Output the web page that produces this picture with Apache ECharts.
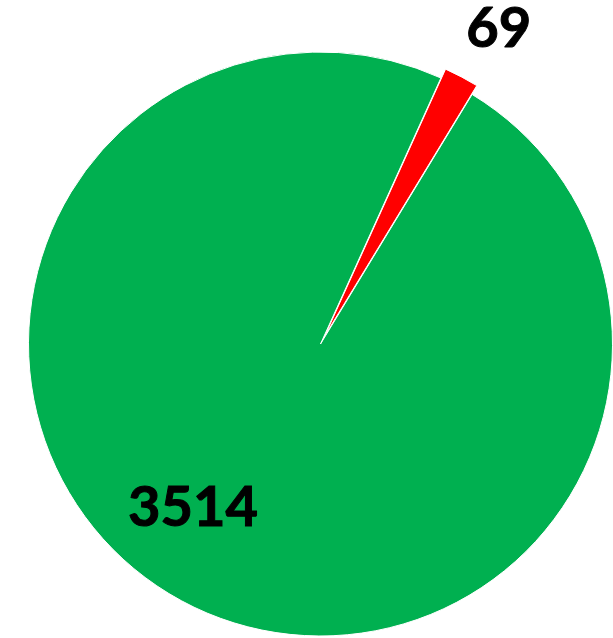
<!DOCTYPE html>
<html>
<head>
<meta charset="utf-8">
<script src="https://cdn.jsdelivr.net/npm/echarts@6/dist/echarts.min.js"></script>
<style>html,body{margin:0;padding:0;background:#fff}#c{width:613px;height:638px}</style>
</head>
<body>
<div id="c"></div>
<script>
var categories = ['Red', 'Green'];
var values = [69, 3514];
var colors = ['#FF0000', '#00B050'];

var chart = echarts.init(document.getElementById('c'));
var data = categories.map(function (n, i) {
  return {
    name: n,
    value: values[i],
    selected: i === 0,
    itemStyle: { color: colors[i] }
  };
});
var labelShift = [[104, -174], [-58, 32]];
chart.setOption({
  animation: false,
  series: [{
    type: 'pie',
    center: [320.5, 344],
    radius: [0, 292],
    startAngle: 65.65,
    clockwise: true,
    selectedMode: 'single',
    selectedOffset: 10,
    avoidLabelOverlap: false,
    itemStyle: { borderColor: '#ffffff', borderWidth: 1 },
    label: {
      show: true,
      position: 'inside',
      formatter: '{c}',
      color: '#000',
      fontFamily: 'Lato',
      fontWeight: 'bold',
      fontSize: 56,
      textBorderColor: '#000',
      textBorderWidth: 1
    },
    labelLayout: function (p) {
      var s = labelShift[p.dataIndex];
      return { dx: s[0], dy: s[1] };
    },
    labelLine: { show: false },
    emphasis: { disabled: true },
    data: data
  }]
});
</script>
</body>
</html>
